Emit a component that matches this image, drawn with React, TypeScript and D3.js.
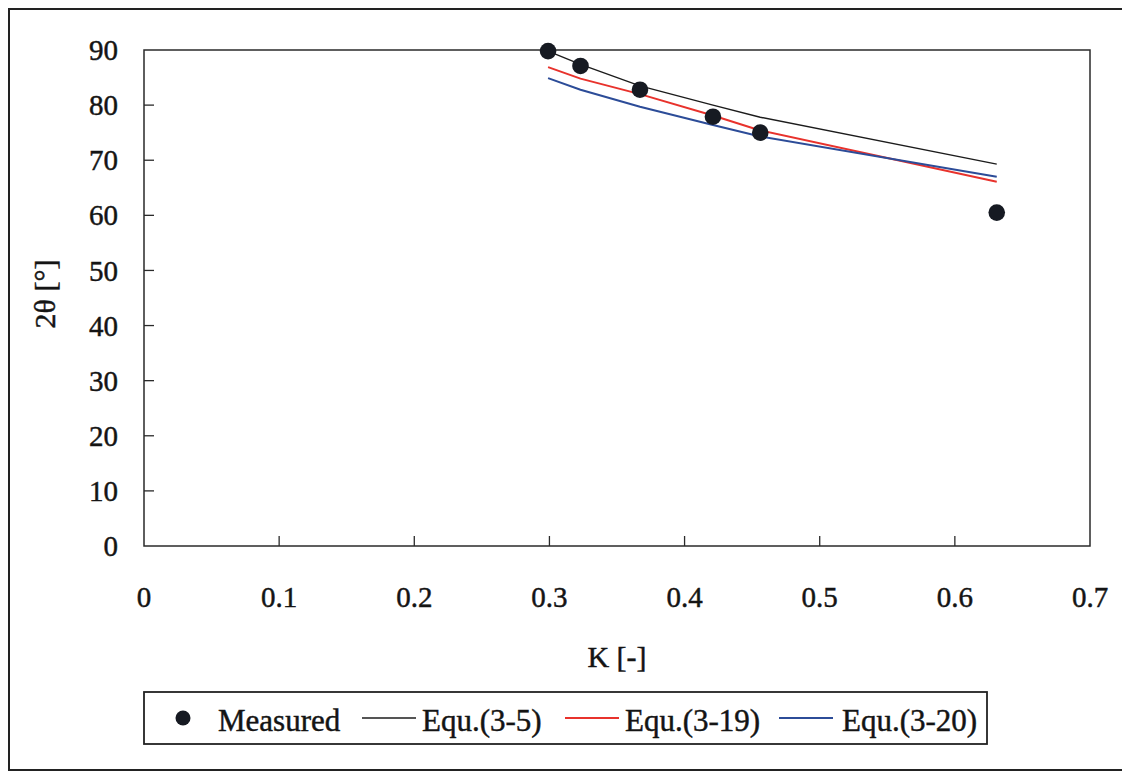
import React from "react";
import * as d3 from "d3";

// K [-] values where everything was evaluated
const kValues = [0.299, 0.323, 0.367, 0.421, 0.456, 0.631];

// 2θ [°]
const measured = [89.8, 87.1, 82.8, 77.9, 75.0, 60.5];
const equ3_5 = [89.8, 87.4, 83.5, 80.0, 77.8, 69.3];
const equ3_19 = [86.9, 84.8, 82.0, 78.1, 75.4, 66.1];
const equ3_20 = [84.9, 82.8, 79.7, 76.4, 74.3, 67.0];

const xTicks = [0, 0.1, 0.2, 0.3, 0.4, 0.5, 0.6, 0.7];
const yTicks = [0, 10, 20, 30, 40, 50, 60, 70, 80, 90];

const lineSeries = [
  { name: "Equ.(3-5)", values: equ3_5, color: "#1c1c1c", width: 1.4 },
  { name: "Equ.(3-19)", values: equ3_19, color: "#e8322c", width: 2 },
  { name: "Equ.(3-20)", values: equ3_20, color: "#2c4c98", width: 2 },
];

const W = 1122;
const H = 776;
const plot = { left: 144, right: 1090, top: 50, bottom: 546 };
const font = "'Liberation Serif', 'Times New Roman', serif";
const ink = "#141414";

export default function App() {
  const x = d3.scaleLinear().domain([0, 0.7]).range([plot.left, plot.right]);
  const y = d3.scaleLinear().domain([0, 90]).range([plot.bottom, plot.top]);

  const line = d3
    .line<[number, number]>()
    .x((d) => x(d[0]))
    .y((d) => y(d[1]));

  const dotColor = "#161a22";

  // legend layout
  const legY = 718;
  const legend = [
    { kind: "dot", label: "Measured", markX: 183, textX: 218 },
    { kind: "line", label: lineSeries[0].name, color: lineSeries[0].color, w: lineSeries[0].width, markX: 362, textX: 422 },
    { kind: "line", label: lineSeries[1].name, color: lineSeries[1].color, w: lineSeries[1].width, markX: 565, textX: 625 },
    { kind: "line", label: lineSeries[2].name, color: lineSeries[2].color, w: lineSeries[2].width, markX: 779, textX: 842 },
  ];

  const textStyle = { fill: ink, stroke: ink, strokeWidth: 0.45 };

  return (
    <svg
      width={W}
      height={H}
      style={{ position: "absolute", left: 0, top: 0, background: "#fff" }}
      fontFamily={font}
    >
      {/* outer frame */}
      <rect x={9} y={9} width={1140} height={761} fill="none" stroke="#222" strokeWidth={2} />

      {/* plot area */}
      <rect
        x={plot.left}
        y={plot.top}
        width={plot.right - plot.left}
        height={plot.bottom - plot.top}
        fill="none"
        stroke="#2a2a2a"
        strokeWidth={1.5}
      />

      {/* y ticks */}
      {yTicks.map((t) => (
        <g key={"y" + t}>
          {t > 0 && t < 90 && (
            <line x1={plot.left} x2={plot.left + 10} y1={y(t)} y2={y(t)} stroke="#2a2a2a" strokeWidth={1.3} />
          )}
          <text x={118} y={y(t)} dy="0.35em" textAnchor="end" fontSize={29} {...textStyle}>
            {t}
          </text>
        </g>
      ))}

      {/* x ticks */}
      {xTicks.map((t) => (
        <g key={"x" + t}>
          {t > 0 && t < 0.7 && (
            <line x1={x(t)} x2={x(t)} y1={plot.bottom} y2={plot.bottom - 10} stroke="#2a2a2a" strokeWidth={1.3} />
          )}
          <text x={x(t)} y={607} textAnchor="middle" fontSize={29} {...textStyle}>
            {t}
          </text>
        </g>
      ))}

      {/* axis titles */}
      <text x={617} y={667} textAnchor="middle" fontSize={30} {...textStyle}>
        K [-]
      </text>
      <text transform={`translate(55, 294) rotate(-90)`} textAnchor="middle" fontSize={30} {...textStyle}>
        2θ [°]
      </text>

      {/* model curves */}
      {lineSeries.map((s) => (
        <path
          key={s.name}
          d={line(kValues.map((k, i) => [k, s.values[i]] as [number, number])) || ""}
          fill="none"
          stroke={s.color}
          strokeWidth={s.width}
        />
      ))}

      {/* measured points */}
      {measured.map((v, i) => (
        <circle key={"m" + i} cx={x(kValues[i])} cy={y(v)} r={8.3} fill={dotColor} />
      ))}

      {/* legend */}
      <rect x={144} y={692} width={843} height={52} fill="#fff" stroke="#222" strokeWidth={1.8} />
      {legend.map((l) => (
        <g key={l.label}>
          {l.kind === "dot" ? (
            <circle cx={l.markX} cy={legY} r={7.5} fill={dotColor} />
          ) : (
            <line x1={l.markX} x2={l.markX + 54} y1={legY} y2={legY} stroke={l.color} strokeWidth={l.w} />
          )}
          <text x={l.textX} y={731} fontSize={31} {...textStyle}>
            {l.label}
          </text>
        </g>
      ))}
    </svg>
  );
}
